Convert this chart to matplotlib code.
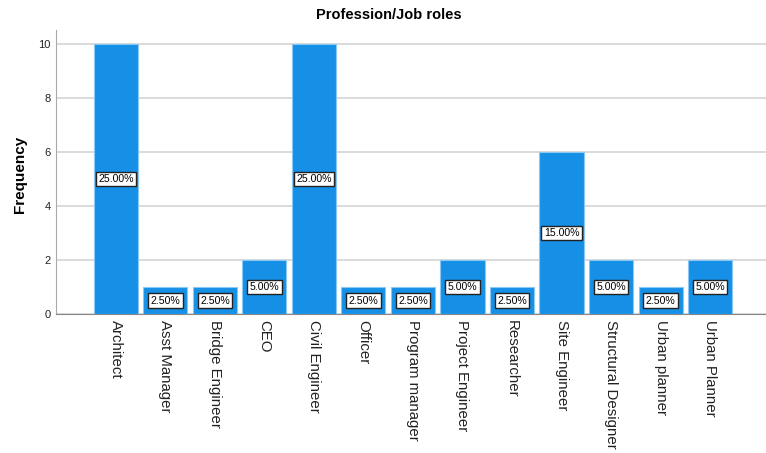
import numpy as np
import matplotlib.pyplot as plt

plt.rcParams['font.family'] = ['Liberation Sans', 'DejaVu Sans']

roles = ['Architect', 'Asst Manager', 'Bridge Engineer', 'CEO', 'Civil Engineer',
         'Officer', 'Program manager', 'Project Engineer', 'Researcher',
         'Site Engineer', 'Structural Designer', 'Urban planner', 'Urban Planner']
freq = [10, 1, 1, 2, 10, 1, 1, 2, 1, 6, 2, 1, 2]
pct = ['25.00%', '2.50%', '2.50%', '5.00%', '25.00%', '2.50%', '2.50%',
       '5.00%', '2.50%', '15.00%', '5.00%', '2.50%', '5.00%']

fig = plt.figure(figsize=(7.66, 4.53), dpi=100)
ax = fig.add_axes([0.0731, 0.3068, 0.9269, 0.627])

x = np.arange(len(roles))
ax.bar(x, freq, width=0.89, color='#1590E6', edgecolor='#8CC8F5', linewidth=0.8, zorder=3)

for xi, f, p in zip(x, freq, pct):
    ax.text(xi, f / 2, p, ha='center', va='center', fontsize=7.6, zorder=4,
            bbox=dict(boxstyle='square,pad=0.22', facecolor='white', edgecolor='#222222', linewidth=1))

ax.set_xlim(-1.21, 13.13)
ax.set_ylim(0, 10.52)
ax.set_yticks([0, 2, 4, 6, 8, 10])
ax.yaxis.grid(True, color='#d4d4d4', linewidth=1.2, zorder=0)
ax.set_axisbelow(True)

ax.set_xticks(x)
ax.set_xticklabels(roles, rotation=-90, fontsize=10.8, color='#222222')
ax.tick_params(axis='x', length=0, pad=4)
ax.tick_params(axis='y', length=0, labelsize=8, pad=4, labelcolor='#222222')

for s in ['top', 'right']:
    ax.spines[s].set_visible(False)
ax.spines['left'].set_color('#aaaaaa')
ax.spines['bottom'].set_color('#888888')

ax.set_ylabel('Frequency', fontsize=11, fontweight='bold')
ax.yaxis.set_label_coords(-0.041, 0.49)
ax.set_title('Profession/Job roles', fontsize=10.5, fontweight='bold', pad=8, x=0.469)

fig.savefig('out.png', dpi=100)
